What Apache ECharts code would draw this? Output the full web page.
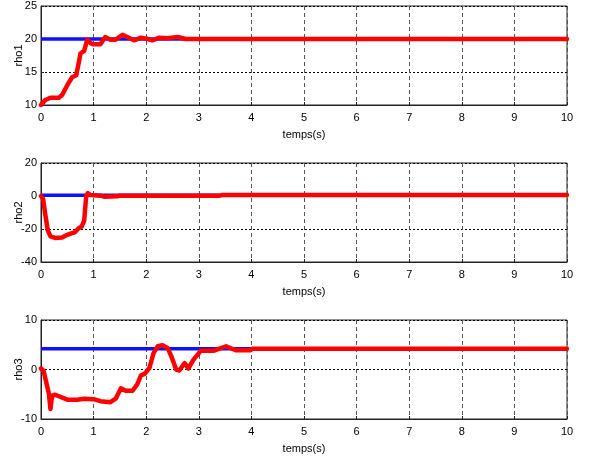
<!DOCTYPE html>
<html>
<head>
<meta charset="utf-8">
<script src="https://cdn.jsdelivr.net/npm/echarts@6/dist/echarts.min.js"></script>
<style>
body { margin: 0; background: #fff; }
#chart { width: 594px; height: 462px; }
</style>
</head>
<body>
<div id="chart"></div>
<script>
// time ticks (s)
const xTicks = [0, 1, 2, 3, 4, 5, 6, 7, 8, 9, 10];

// rho1: reference (blue) and response (red)
const ref1 = 20;
const t1 = [0, 0.08, 0.18, 0.34, 0.4, 0.5, 0.59, 0.67, 0.72, 0.75, 0.82, 0.88, 0.94, 0.99, 1.13, 1.22, 1.32, 1.42, 1.55, 1.64, 1.77, 1.9, 2.03, 2.12, 2.25, 2.4, 2.6, 2.75, 10];
const rho1 = [10, 10.75, 11.1, 11.1, 11.5, 13, 14.2, 14.5, 16.5, 17.8, 18.2, 19.9, 19.4, 19.2, 19.2, 20.3, 19.9, 19.9, 20.65, 20.3, 19.8, 20.2, 20, 19.8, 20.2, 20.1, 20.3, 20, 20];

// rho2
const ref2 = 0.5;
const t2 = [0, 0.04, 0.08, 0.13, 0.18, 0.27, 0.4, 0.5, 0.59, 0.64, 0.67, 0.72, 0.77, 0.82, 0.86, 0.89, 0.94, 1.13, 1.2, 1.45, 1.5, 3.4, 3.45, 10];
const rho2 = [0, -1.7, -11, -21, -24.4, -25.4, -25.2, -23.5, -22.5, -22, -23, -19.4, -18.6, -15.2, 0.2, 1.7, 0.6, 0.2, -0.4, -0.2, 0.2, 0.2, 0.6, 0.6];

// rho3
const ref3 = 4.2;
const t3 = [0, 0.05, 0.1, 0.15, 0.18, 0.21, 0.27, 0.5, 0.69, 0.82, 1.0, 1.13, 1.32, 1.42, 1.52, 1.61, 1.74, 1.83, 1.9, 1.97, 2.06, 2.14, 2.22, 2.31, 2.41, 2.48, 2.57, 2.63, 2.73, 2.8, 2.9, 3.04, 3.29, 3.42, 3.52, 3.61, 3.7, 3.98, 4.02, 10];
const rho3 = [0.2, -0.3, -2.6, -4.9, -8, -5.3, -5.1, -6.1, -6.1, -5.9, -6, -6.4, -6.6, -5.9, -3.8, -4.3, -4.3, -3, -1.2, -0.9, 0.3, 3.3, 4.7, 4.9, 4.3, 2.6, 0, -0.2, 1.3, 0.2, 2, 3.8, 3.8, 4.3, 4.7, 4.3, 3.9, 3.9, 4.2, 4.2];

const yNames = ['rho1', 'rho2', 'rho3'];
const yMin = [10, -40, -10];
const yMax = [25, 20, 10];
const yStep = [5, 20, 10];

const font = 'Liberation Sans Narrow, Liberation Sans, Arial, sans-serif';
const tops = [6, 163, 320];

const grids = tops.map(t => ({
  left: 41, right: 27, top: t, height: 99,
  outerBoundsMode: 'none', containLabel: false,
  show: true, borderColor: '#222', borderWidth: 1, backgroundColor: '#fff'
}));

const xAxes = tops.map((t, i) => ({
  type: 'value', gridIndex: i, min: 0, max: 10, interval: 1,
  name: 'temps(s)', nameLocation: 'middle', nameGap: 24,
  nameTextStyle: { fontFamily: font, fontSize: 11, color: '#000' },
  axisLine: { onZero: false, lineStyle: { color: '#222', width: 1 } },
  axisTick: { inside: true, length: 3, lineStyle: { color: '#222' } },
  axisLabel: { fontFamily: font, fontSize: 11, color: '#000', margin: 7 },
  splitLine: { show: true, lineStyle: { color: '#555', type: [4, 3], width: 1 } }
}));

const yAxes = tops.map((t, i) => ({
  type: 'value', gridIndex: i, min: yMin[i], max: yMax[i], interval: yStep[i],
  name: yNames[i], nameLocation: 'middle', nameGap: 17, nameMoveOverlap: false,
  nameTextStyle: { fontFamily: font, fontSize: 11, color: '#000' },
  axisLine: { show: true, onZero: false, lineStyle: { color: '#222', width: 1 } },
  axisTick: { show: true, inside: true, length: 3, lineStyle: { color: '#222' } },
  axisLabel: { fontFamily: font, fontSize: 11, color: '#000', margin: 4 },
  splitLine: { show: true, lineStyle: { color: '#000', type: [2, 2], width: 1 } }
}));

const zip = (ts, ys) => ts.map((t, k) => [t, ys[k]]);
const flat = v => [[0, v], [10, v]];

const refs = [ref1, ref2, ref3];
const resp = [zip(t1, rho1), zip(t2, rho2), zip(t3, rho3)];

const series = [];
for (let i = 0; i < 3; i++) {
  series.push({
    type: 'line', xAxisIndex: i, yAxisIndex: i, data: flat(refs[i]),
    showSymbol: false, silent: true, z: 3,
    lineStyle: { color: '#1010ff', width: 3.5 }
  });
  series.push({
    type: 'line', xAxisIndex: i, yAxisIndex: i, data: resp[i],
    showSymbol: false, silent: true, z: 4,
    lineStyle: { color: '#ff0000', width: 4.5, join: 'round', cap: 'round' }
  });
}

const chart = echarts.init(document.getElementById('chart'), null, { renderer: 'canvas' });
chart.setOption({
  animation: false,
  backgroundColor: '#fff',
  grid: grids,
  xAxis: xAxes,
  yAxis: yAxes,
  series: series
});
</script>
</body>
</html>
